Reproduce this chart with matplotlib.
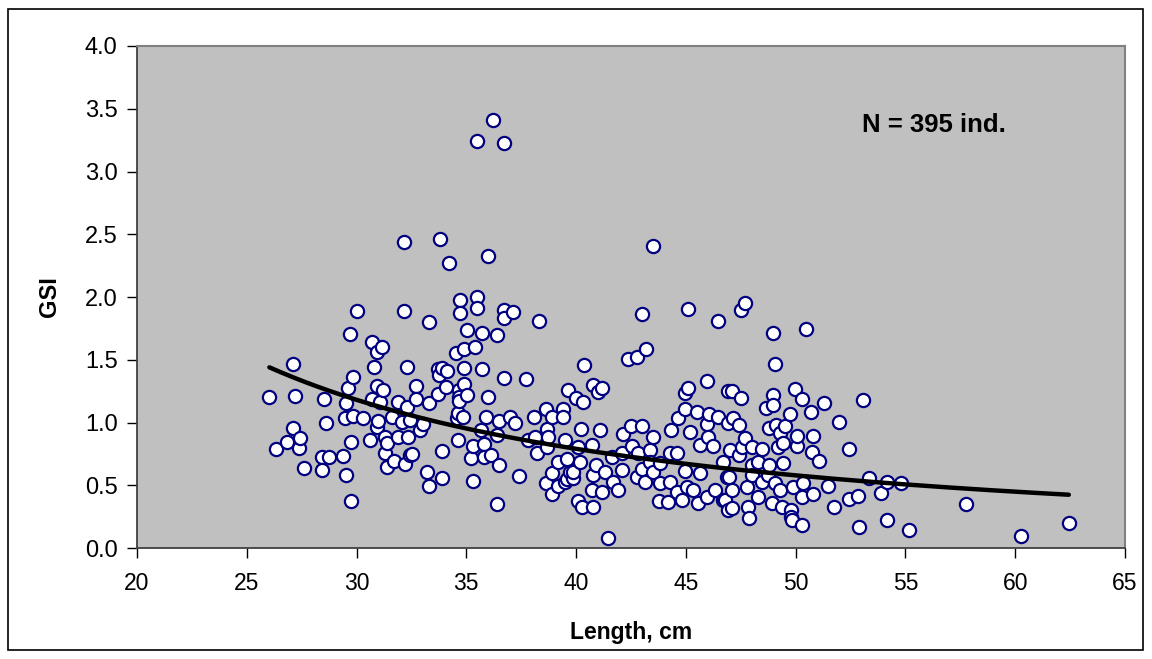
import numpy as np
import matplotlib
matplotlib.use("Agg")
import matplotlib.pyplot as plt
from matplotlib.patches import Rectangle

plt.rcParams["font.family"] = ["Liberation Sans", "DejaVu Sans"]

# GSI vs length, split by length band
len_small = [26.03, 26.33, 26.82, 27.12, 27.12, 27.21, 27.39, 27.42, 27.62, 28.41,
             28.41, 28.53, 28.61, 28.74, 29.40, 29.47, 29.52, 29.52, 29.62, 29.71,
             29.73, 29.73, 29.82, 29.82, 30.00, 30.31, 30.61, 30.71, 30.71, 30.79,
             30.91, 30.91, 30.91, 30.99, 31.07, 31.14, 31.22, 31.29, 31.29, 31.37,
             31.37, 31.60, 31.70, 31.90, 31.90, 32.05, 32.17, 32.17, 32.20, 32.28,
             32.28, 32.36, 32.43, 32.43, 32.51, 32.69, 32.69, 32.89]
gsi_small = [1.200, 0.786, 0.847, 1.470, 0.954, 1.210, 0.794, 0.874, 0.640, 0.728,
             0.620, 1.190, 0.993, 0.723, 0.736, 1.033, 1.158, 0.580, 1.277, 1.705,
             0.842, 0.377, 1.365, 1.052, 1.890, 1.033, 0.861, 1.644, 1.190, 1.445,
             1.565, 1.290, 0.967, 1.012, 1.166, 1.600, 1.260, 0.887, 0.760, 0.839,
             0.648, 1.046, 0.696, 1.166, 0.887, 1.006, 1.890, 2.440, 0.669, 1.440,
             1.121, 0.887, 0.741, 1.020, 0.749, 1.290, 1.187, 0.940]

len_mid = [33.01, 33.22, 33.31, 33.31, 33.31, 33.72, 33.72, 33.77, 33.80, 33.90,
           33.90, 33.90, 34.07, 34.10, 34.21, 34.51, 34.59, 34.63, 34.63, 34.68,
           34.68, 34.68, 34.71, 34.71, 34.86, 34.89, 34.90, 34.90, 35.01, 35.01,
           35.19, 35.31, 35.31, 35.39, 35.50, 35.50, 35.50, 35.65, 35.70, 35.70,
           35.80, 35.80, 35.89, 36.00, 36.00, 36.11, 36.20, 36.38, 36.41, 36.41,
           36.50, 36.50, 36.71, 36.71, 36.71, 36.73, 36.99, 37.11, 37.21, 37.41,
           37.70, 37.82, 38.08, 38.12, 38.20, 38.29, 38.61, 38.61, 38.66, 38.66,
           38.73, 38.88, 38.88, 38.88, 39.19, 39.19, 39.39, 39.41, 39.49, 39.50,
           39.57, 39.60, 39.64, 39.72, 39.85, 39.87, 39.99]
gsi_mid = [0.986, 0.608, 1.800, 1.153, 0.497, 1.424, 1.224, 1.378, 2.460, 1.437,
           0.770, 0.555, 1.286, 1.413, 2.270, 1.556, 1.033, 1.073, 0.861, 1.259,
           1.206, 1.171, 1.980, 1.875, 1.046, 1.585, 1.437, 1.304, 1.740, 1.219,
           0.715, 0.815, 0.534, 1.600, 2.000, 1.910, 3.240, 0.940, 1.715, 1.424,
           0.829, 0.728, 1.041, 2.330, 1.206, 0.741, 3.410, 0.348, 1.700, 0.900,
           1.014, 0.661, 1.900, 1.352, 3.230, 1.830, 1.046, 1.880, 0.993, 0.576,
           1.344, 0.861, 1.041, 0.887, 0.760, 1.810, 1.108, 0.515, 0.946, 0.807,
           0.887, 1.046, 0.600, 0.430, 0.688, 0.494, 1.108, 1.041, 0.861, 0.530,
           0.707, 0.550, 1.259, 0.608, 0.560, 0.608, 1.193]

len_large = [40.10, 40.10, 40.17, 40.20, 40.25, 40.30, 40.37, 40.71, 40.71, 40.78,
             40.78, 40.78, 40.89, 41.01, 41.08, 41.16, 41.19, 41.31, 41.46, 41.62,
             41.69, 41.92, 42.07, 42.07, 42.15, 42.37, 42.49, 42.53, 42.76, 42.78,
             42.83, 42.98, 42.98, 42.98, 43.13, 43.18, 43.36, 43.36, 43.51, 43.51,
             43.51, 43.77, 43.82, 43.82, 44.19, 44.27, 44.27, 44.30, 44.58, 44.58,
             44.65, 44.80, 44.95, 44.95, 44.95, 45.03, 45.08, 45.08, 45.18, 45.33,
             45.49, 45.56, 45.64, 45.64, 45.94, 45.94, 45.94, 45.99, 46.06, 46.24,
             46.32, 46.47, 46.47, 46.70, 46.70, 46.78, 46.85, 46.90, 46.93, 46.93,
             46.97]
gsi_large = [0.807, 0.377, 0.688, 0.946, 0.329, 1.166, 1.458, 0.821, 0.462, 1.300,
             0.580, 0.329, 0.661, 1.246, 0.940, 0.449, 1.272, 0.608, 0.082, 0.728,
             0.528, 0.462, 0.755, 0.620, 0.908, 1.504, 0.972, 0.813, 0.568, 1.525,
             0.755, 1.865, 0.972, 0.627, 0.528, 1.583, 0.781, 0.688, 2.410, 0.882,
             0.608, 0.377, 0.675, 0.515, 0.369, 0.755, 0.528, 0.940, 0.755, 0.449,
             1.033, 0.382, 1.232, 1.105, 0.616, 0.488, 1.905, 1.272, 0.927, 0.462,
             1.086, 0.356, 0.821, 0.600, 1.333, 0.988, 0.409, 0.887, 1.068, 0.813,
             0.462, 1.810, 1.041, 0.688, 0.382, 0.382, 0.568, 1.253, 0.993, 0.303,
             0.568]

len_xl = [47.00, 47.08, 47.08, 47.08, 47.16, 47.44, 47.44, 47.49, 47.49, 47.54,
          47.69, 47.69, 47.76, 47.84, 47.88, 47.99, 47.99, 48.03, 48.27, 48.27,
          48.45, 48.45, 48.67, 48.75, 48.79, 48.79, 48.90, 48.98, 48.98, 48.98,
          49.05, 49.08, 49.10, 49.20, 49.28, 49.28, 49.36, 49.44, 49.44, 49.51,
          49.74, 49.77, 49.77, 49.81, 49.89, 49.96, 50.05, 50.07, 50.27, 50.27,
          50.30, 50.34, 50.47, 50.68, 50.75, 50.77, 50.77, 51.08, 51.28, 51.48,
          51.75, 51.97, 52.44, 52.44, 52.85, 52.88, 53.05, 53.35, 53.87, 54.14,
          54.14, 54.78, 55.17, 57.75, 60.24, 62.44]
gsi_xl = [0.781, 1.253, 0.462, 0.316, 1.033, 0.980, 0.741, 1.896, 1.193, 0.807,
          1.955, 0.879, 0.488, 0.324, 0.241, 0.661, 0.580, 0.807, 0.688, 0.409,
          0.786, 0.528, 1.113, 0.580, 0.959, 0.661, 0.356, 1.710, 1.219, 1.139,
          0.515, 1.466, 0.980, 0.807, 0.914, 0.462, 0.329, 0.834, 0.675, 0.972,
          1.068, 0.303, 0.250, 0.223, 0.488, 1.264, 0.813, 0.892, 0.409, 0.183,
          1.187, 0.520, 1.743, 1.086, 0.767, 0.892, 0.430, 0.696, 1.158, 0.496,
          0.324, 1.001, 0.789, 0.388, 0.414, 0.170, 1.179, 0.555, 0.440, 0.528,
          0.223, 0.520, 0.143, 0.348, 0.096, 0.202]

# power trendline GSI = a * L^b, coefficients
trend_a = 136.0
trend_b = -1.3955

n_label = "N = 395 ind."

length = np.array(len_small + len_mid + len_large + len_xl)
gsi = np.array(gsi_small + gsi_mid + gsi_large + gsi_xl)

xs = np.linspace(length.min(), length.max(), 200)
ys = trend_a * xs ** trend_b

fig = plt.figure(figsize=(11.52, 6.59), dpi=100)
ax = fig.add_axes([0.1189, 0.1684, 0.8577, 0.7618])
ax.set_facecolor("#c0c0c0")

ax.plot(length, gsi, "o", ls="none", ms=9.5, mfc="white", mec="#000080",
        mew=1.6, zorder=3, clip_on=False)
ax.plot(xs, ys, color="black", lw=3.2, zorder=4, solid_capstyle="round")

ax.set_xlim(20, 65)
ax.set_ylim(0, 4)
ax.set_xticks(np.arange(20, 66, 5))
ax.set_yticks(np.arange(0, 4.01, 0.5))
ax.set_yticklabels([f"{v:.1f}" for v in np.arange(0, 4.01, 0.5)])
ax.tick_params(direction="out", length=7, width=1, colors="black")
ax.tick_params(axis="y", labelsize=17, pad=7)
ax.tick_params(axis="x", labelsize=16.5, pad=10)
for side in ["left", "bottom"]:
    ax.spines[side].set_color("#404040")
    ax.spines[side].set_linewidth(1.3)
for side in ["top", "right"]:
    ax.spines[side].set_color("#808080")
    ax.spines[side].set_linewidth(1.5)

ax.set_xlabel("Length, cm", fontsize=16.5, fontweight="bold")
ax.set_ylabel("GSI", fontsize=17, fontweight="bold")
ax.xaxis.set_label_coords(0.5, -0.145)
ax.yaxis.set_label_coords(-0.077, 0.5)

ax.text(53.0, 3.37, n_label, fontsize=18.5, fontweight="bold", ha="left",
        va="center")

fig.patches.append(Rectangle((8 / 1152, 9 / 659), 1135 / 1152, 641 / 659,
                             transform=fig.transFigure, fill=False,
                             edgecolor="black", linewidth=1.2))

fig.savefig("out.png", dpi=100)
